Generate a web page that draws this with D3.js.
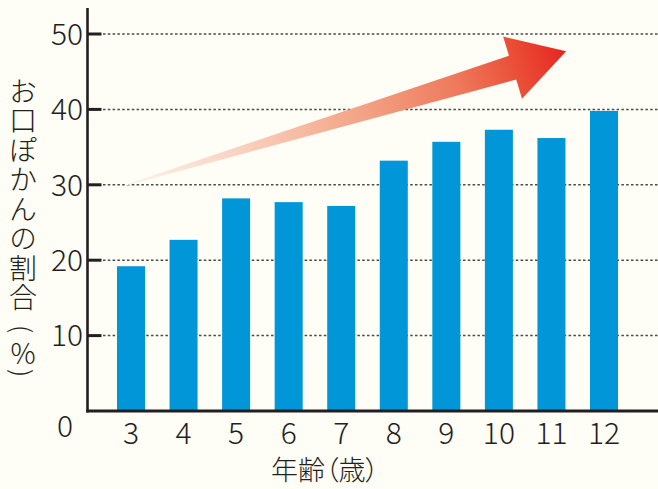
<!DOCTYPE html>
<html>
<head>
<meta charset="utf-8">
<script src="https://cdn.jsdelivr.net/npm/d3@7"></script>
<style>
  html, body { margin: 0; padding: 0; background: #fefdf6; }
  svg { display: block; }
  text { font-family: "Noto Sans CJK JP", "Noto Sans", sans-serif; fill: #231f20; font-weight: 300; }
</style>
</head>
<body>
<svg id="chart" width="658" height="489"></svg>
<script>
// ---- data ----
const ages = ["3", "4", "5", "6", "7", "8", "9", "10", "11", "12"];
const shares = [19.2, 22.7, 28.2, 27.7, 27.2, 33.2, 35.7, 37.3, 36.2, 39.8];
const yTicks = [10, 20, 30, 40, 50];
const yTitleMain = "お口ぽかんの割合";
const yTitleUnit = ["(", "%", ")"];
const xTitle = "年齢（歳）";
// trend arrow in data space: [age index, value]
const arrowFrom = [-0.08, 30];
const arrowTo = [8.28, 47.7];

// ---- layout ----
const W = 658, H = 489;
const svg = d3.select("#chart");
svg.append("rect").attr("width", W).attr("height", H).attr("fill", "#fefdf6");

const x = d3.scaleBand().domain(ages).range([117, 618]).paddingInner(0.467).paddingOuter(0);
const y = d3.scaleLinear().domain([0, 50]).range([411, 34]);
const axisX = 87.5;
const defs = svg.append("defs");

// gridlines + tick marks
const grid = svg.append("g");
grid.selectAll("line.grid").data(yTicks).join("line")
  .attr("class", "grid")
  .attr("x1", 103).attr("x2", W)
  .attr("y1", d => y(d)).attr("y2", d => y(d))
  .attr("stroke", "#4a4a4a").attr("stroke-width", 1.5)
  .attr("stroke-dasharray", "2.5,2.3");
grid.selectAll("line.tick").data(yTicks).join("line")
  .attr("class", "tick")
  .attr("x1", axisX).attr("x2", 101.5)
  .attr("y1", d => y(d)).attr("y2", d => y(d))
  .attr("stroke", "#231f20").attr("stroke-width", 3);

// arrow
const px = p => {
  const c0 = x(ages[0]) + x.bandwidth() / 2;
  return [c0 + p[0] * x.step(), y(p[1])];
};
const A = px(arrowFrom), B = px(arrowTo);
const dx = B[0] - A[0], dy = B[1] - A[1], L = Math.hypot(dx, dy);
const u = [dx / L, dy / L], n = [-u[1], u[0]];
const headLen = 56, headHalf = 32.5, shaftHalf = 12.5, tailHalf = 0.5;
const base = [B[0] - u[0] * headLen, B[1] - u[1] * headLen];
const off = (p, k) => [p[0] + n[0] * k, p[1] + n[1] * k];
const arrowPts = [off(A, -tailHalf), off(base, -shaftHalf), off(base, -headHalf), B,
                  off(base, headHalf), off(base, shaftHalf), off(A, tailHalf)];
const grad = defs.append("linearGradient").attr("id", "arrowGrad")
  .attr("gradientUnits", "userSpaceOnUse")
  .attr("x1", A[0]).attr("y1", A[1]).attr("x2", B[0]).attr("y2", B[1]);
[[0, "#fdf3ec"], [0.25, "#f9d3c2"], [0.5, "#f4a98c"], [0.75, "#ee7a5c"], [0.9, "#ea4a34"], [1, "#e52520"]]
  .forEach(([o, c]) => grad.append("stop").attr("offset", o).attr("stop-color", c));
svg.append("path")
  .attr("d", d3.line()(arrowPts) + "Z")
  .attr("fill", "url(#arrowGrad)");

// bars
svg.append("g").selectAll("rect").data(shares).join("rect")
  .attr("x", (d, i) => x(ages[i]))
  .attr("width", x.bandwidth())
  .attr("y", d => y(d))
  .attr("height", d => y(0) - y(d))
  .attr("fill", "#0096d8");

// axis lines
svg.append("line").attr("x1", axisX).attr("x2", axisX).attr("y1", 8).attr("y2", y(0) + 1.5)
  .attr("stroke", "#231f20").attr("stroke-width", 2.6);
svg.append("line").attr("x1", axisX - 1.3).attr("x2", W).attr("y1", y(0)).attr("y2", y(0))
  .attr("stroke", "#231f20").attr("stroke-width", 3);

// y tick labels
svg.append("g").selectAll("text").data(yTicks).join("text")
  .attr("x", 83).attr("y", d => y(d)).attr("dy", "0.36em")
  .attr("text-anchor", "end").attr("font-size", 30)
  .text(d => d);
svg.append("text").attr("x", 65).attr("y", 437).attr("text-anchor", "middle")
  .attr("font-size", 30).text("0");

// x tick labels
svg.append("g").selectAll("text").data(ages).join("text")
  .attr("x", d => x(d) + x.bandwidth() / 2).attr("y", 444)
  .attr("text-anchor", "middle").attr("font-size", 30)
  .text(d => d);

// x title
svg.append("text").attr("x", 325).attr("y", 480).attr("text-anchor", "middle")
  .attr("font-size", 27).style("font-feature-settings", "'palt'")
  .text(xTitle);

// y title (vertical)
svg.append("text").attr("x", 23).attr("y", 77).attr("text-anchor", "start")
  .attr("font-size", 28).style("writing-mode", "vertical-rl")
  .style("letter-spacing", "1.5px")
  .text(yTitleMain);
const unitY = [329, 352, 373];
yTitleUnit.forEach((c, i) => {
  const t = svg.append("text")
    .attr("text-anchor", "middle").attr("dominant-baseline", "central")
    .attr("font-size", c === "%" ? 28 : 26)
    .text(c);
  if (c === "%") t.attr("x", 23).attr("y", unitY[i]);
  else t.attr("transform", `translate(23,${unitY[i]}) rotate(90)`).attr("x", 0).attr("y", 0);
});
</script>
</body>
</html>
